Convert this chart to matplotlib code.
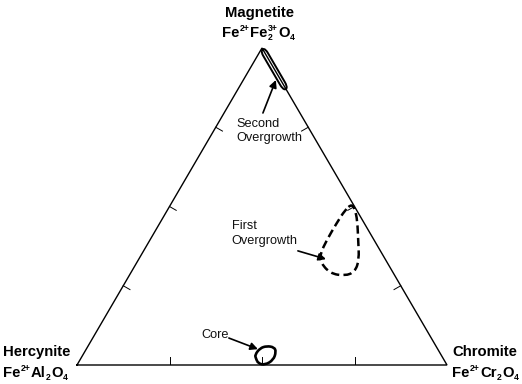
import numpy as np
import matplotlib
matplotlib.use("Agg")
import matplotlib.pyplot as plt
from matplotlib.path import Path
from matplotlib.patches import PathPatch

plt.rcParams['font.family'] = ['Liberation Sans', 'DejaVu Sans']

# ---- data (ternary compositions in %, Magnetite = top, Chromite = right) ----
tick_fracs = [25, 50, 75]

core_mt = [2.1, 3.2, 5.3, 6.0, 5.6, 4.2, 1.6, 0.0, 0.5]
core_cr = [47.3, 46.5, 46.8, 48.3, 50.5, 51.7, 52.3, 50.8, 48.7]

first_mt = [50.8, 48.9, 45.7, 39.4, 33.1, 29.4, 28.1, 28.9, 32.6, 35.2, 39.4, 44.7, 48.9]
first_cr = [48.9, 50.7, 52.9, 56.3, 59.7, 60.4, 58.4, 53.9, 49.4, 48.2, 47.8, 47.8, 48.0]

second_mt = [99.8, 99.5, 97.5, 90.5, 88.0, 86.8, 87.2, 89.5, 96.5, 98.6]
second_cr = [0.2, 1.3, 3.3, 10.3, 12.8, 13.1, 11.9, 9.6, 2.6, 0.5]

labels = ["Second\nOvergrowth", "First\nOvergrowth", "Core"]
label_mt = [73.8, 41.5, 9.5]
label_cr = [6.3, 21.1, 28.8]
arrow_tail_mt = [79.5, 36.0, 8.5]
arrow_tail_cr = [10.5, 41.7, 36.8]
arrow_head_mt = [89.9, 33.4, 5.0]
arrow_head_cr = [8.8, 50.6, 46.4]

end_names = ["Magnetite", "Hercynite", "Chromite"]
end_formulas = [
    [("Fe", "2+", ""), ("Fe", "3+", "2"), ("O", "", "4")],
    [("Fe", "2+", ""), ("Al", "", "2"), ("O", "", "4")],
    [("Fe", "2+", ""), ("Cr", "", "2"), ("O", "", "4")],
]

H = np.sqrt(3) / 2


def tern(mt, cr):
    mt = np.asarray(mt, float) / 100.0
    cr = np.asarray(cr, float) / 100.0
    return cr + 0.5 * mt, H * mt


def smooth_closed(xs, ys):
    pts = np.column_stack([xs, ys])
    mids = (pts + np.roll(pts, -1, axis=0)) / 2
    verts = [mids[-1]]
    codes = [Path.MOVETO]
    for i in range(len(pts)):
        verts += [pts[i], mids[i]]
        codes += [Path.CURVE3, Path.CURVE3]
    return Path(verts, codes)


W, Hpx = 522, 384
fig = plt.figure(figsize=(W / 100, Hpx / 100), dpi=100)
ax = fig.add_axes([77 / W, 19 / Hpx, 370 / W, 317 / Hpx])
ax.set_xlim(0, 1)
ax.set_ylim(0, H)
ax.axis('off')

# triangle
tx, ty = tern([0, 0, 100, 0], [0, 100, 0, 0])
ax.plot(tx, ty, color='black', lw=1.0, solid_joinstyle='miter', clip_on=False)

# ticks (inward, perpendicular)
L = 0.021
verts_c = [np.array(tern(0, 0)), np.array(tern(0, 100)), np.array(tern(100, 0))]
centroid = sum(verts_c) / 3
for a, b in [(0, 1), (1, 2), (2, 0)]:
    p, q = verts_c[a], verts_c[b]
    d = (q - p) / np.linalg.norm(q - p)
    n = np.array([-d[1], d[0]])
    if np.dot(centroid - p, n) < 0:
        n = -n
    for f in tick_fracs:
        s = p + (q - p) * f / 100
        e = s + n * L
        ax.plot([s[0], e[0]], [s[1], e[1]], color='black', lw=0.7)

# fields
cx, cy = tern(core_mt, core_cr)
ax.add_patch(PathPatch(smooth_closed(cx, cy), fill=False, lw=1.9, ec='black', clip_on=False))
fx, fy = tern(first_mt, first_cr)
ax.add_patch(PathPatch(smooth_closed(fx, fy), fill=False, lw=1.8, ec='black',
                       linestyle=(0, (3.3, 1.7)), clip_on=False))
sx, sy = tern(second_mt, second_cr)
ax.add_patch(PathPatch(smooth_closed(sx, sy), fill=False, lw=1.4, ec='black', clip_on=False))

# annotations
for lab, lm, lc, am, ac, hm, hc in zip(labels, label_mt, label_cr, arrow_tail_mt,
                                       arrow_tail_cr, arrow_head_mt, arrow_head_cr):
    lx, ly = tern(lm, lc)
    ax.text(lx, ly, lab, ha='left', va='center', fontsize=9.2, linespacing=1.25, color='#111111')
    ax.annotate('', xy=tern(hm, hc), xytext=tern(am, ac),
                arrowprops=dict(arrowstyle='-|>', lw=1.2, color='black',
                                mutation_scale=11, shrinkA=0, shrinkB=0))

# vertex labels
renderer = fig.canvas.get_renderer()
BIG, SMALL = 10.7, 6.2


def ft(x, y, s, **kw):
    return fig.text(x / W, 1 - y / Hpx, s, **kw)


def width_px(t):
    return t.get_window_extent(renderer=renderer).width


def formula(x, yc, parts, ha='left'):
    base = yc + 5.2
    items = []
    cur = 0.0
    for main, sup, sub in parts:
        tm = ft(0, base, main, fontsize=BIG, fontweight='bold', va='baseline')
        wm = width_px(tm)
        items.append((tm, cur, base))
        cur += wm + 0.2
        ws = 0.0
        if sup:
            ts = ft(0, base - 5.8, sup, fontsize=SMALL, fontweight='bold', va='baseline')
            ws = max(ws, width_px(ts))
            items.append((ts, cur, base - 5.8))
        if sub:
            tb = ft(0, base + 2.6, sub, fontsize=SMALL, fontweight='bold', va='baseline')
            ws = max(ws, width_px(tb))
            items.append((tb, cur, base + 2.6))
        cur += ws + (0.6 if ws else 0)
    total = cur
    x0 = x - total / 2 if ha == 'center' else x
    for t, off, yy in items:
        t.set_position(((x0 + off) / W, 1 - yy / Hpx))


ft(259, 13, end_names[0], ha='center', va='center', fontsize=BIG, fontweight='bold')
formula(259, 32, end_formulas[0], ha='center')
ft(3, 352, end_names[1], ha='left', va='center', fontsize=BIG, fontweight='bold')
formula(3, 372, end_formulas[1])
ft(452, 352, end_names[2], ha='left', va='center', fontsize=BIG, fontweight='bold')
formula(452, 372, end_formulas[2])

fig.savefig('out.png', dpi=100)
